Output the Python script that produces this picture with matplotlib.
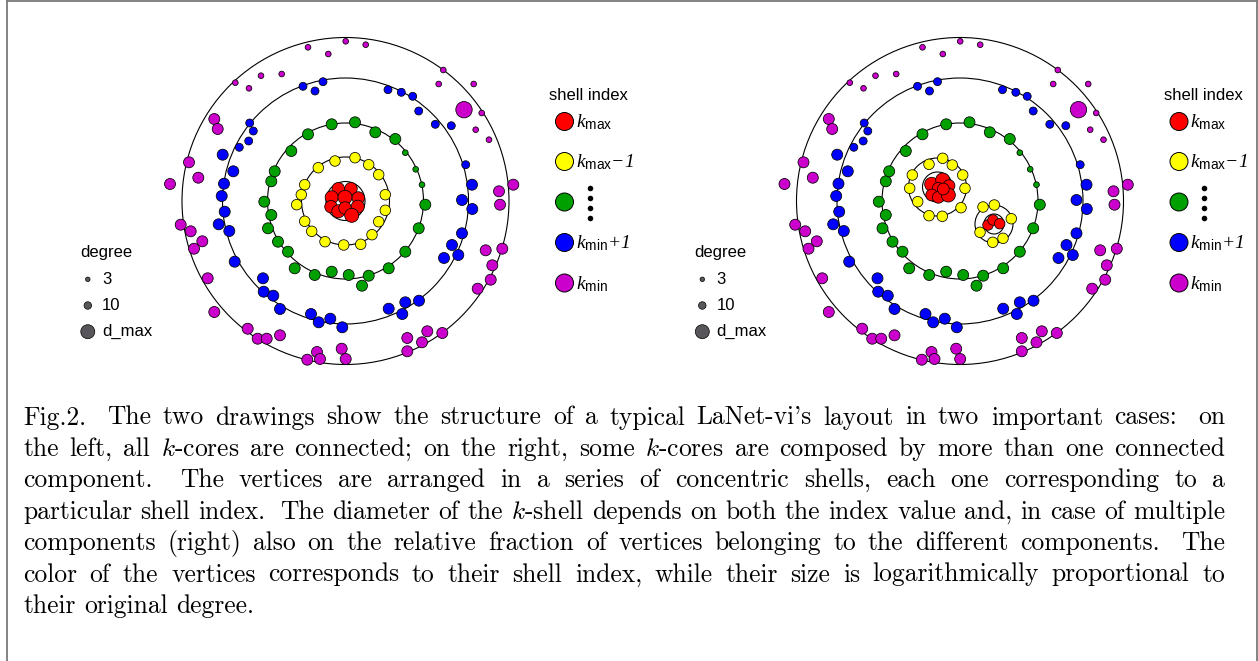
import numpy as np
import matplotlib
matplotlib.use('Agg')
import matplotlib.pyplot as plt
from matplotlib.patches import Circle

plt.rcParams['mathtext.fontset'] = 'custom'
plt.rcParams['mathtext.rm'] = 'Liberation Serif:italic'
plt.rcParams['mathtext.it'] = 'Liberation Serif:italic'
plt.rcParams['mathtext.sf'] = 'Liberation Sans'
plt.rcParams['mathtext.bf'] = 'Liberation Sans:bold'
plt.rcParams['font.family'] = ['Liberation Sans', 'DejaVu Sans']

W, H = 1258, 661

# shell colours, k_max first ... k_min last
shell_colors = ['#ff0000', '#ffff00', '#00a000', '#0000ff', '#cc00cc']

# ---- vertices: offsets from the drawing centre (px, y up) and degree ----
# k_min shell (same in both drawings)
kmin_x = [-37.5, 0.2, 20.2, -17.2, -84.5, -63.8, -110.2, -96.5, 97.8, 93.2, 128.2, 136.2, 130.2, 143.5,
          -131.2, -127.8, -156.5, -147.2, -175.5, -164.8, -154.8, -143.2, -151.5, -137.8, -131.2, -97.8,
          -87.8, -78.8, -65.5, -28.5, -38.2, -25.5, -3.8, 0.2, 61.8, 61.8, 76.5, 81.8, 96.8, 132.2, 145.2,
          146.8, 156.8, 140.2, 153.5, 154.5, 167.8, 118.5]
kmin_y = [153.7, 159.7, 156.3, 147, 125.3, 127, 118.3, 112.7, 131, 117, 117, 88, 71.3, 61.3,
          82, 72, 38.7, 23.3, 17, -23.7, -30.3, -40.3, -47.7, -77.3, -111, -127.7,
          -137.7, -137.7, -134.3, -151, -158.7, -158, -147.7, -158, -137, -150.3, -141.3, -130.3, -132, -87.7, -78.7,
          -64.3, -47.7, -49.3, 9.7, -3.7, 16.3, 91.3]
kmin_deg = [3] * 14 + [10] * 33 + [34]

# k_min+1 shell
kmin1_x = [-42.5, -22.5, -30.5, 42.5, 55.8, 67.2, 73.2, 89.8, 105.8, -95.8, -92.2, -96.8, -106.2, 120.2,
           -122.8, -112.2, -121.5, -123.8, -120.8, -126.8, -116.2, -110.8, -82.5, -81.8, -72.2, -65.5,
           -34.5, -26.8, -15.2, -3.2, 43.2, 56.8, 59.8, 73.5, 98.5, 106.5, 112.8, 116.5, 116.5, 126.8, 126.5]
kmin1_y = [114.7, 119.3, 110, 111.3, 108.7, 104.7, 90, 76.7, 75.3, 78, 70, 60, 53.7, 36.3,
           46.3, 29.7, 17.3, 5, -10.7, -23.3, -30, -60.7, -77.3, -90.7, -94.7, -108,
           -113, -121.3, -117.7, -126.3, -107.7, -113, -101.3, -99.7, -57, -44, -54, -32.3, 1, -8, 16.3]
kmin1_deg = [5] * 14 + [10] * 27

# middle shell
mid_x = [59.8, 70.2, 76.5, -13.8, 9.5, 29.8, 49.8, 79.8, 73.2, 59.8, 43.2, 23.2, 16.5, 3.2, -13.8,
         -30.8, -50.8, -57.5, -67.5, -77.5, -74.2, -81.2, -74.2, -70.8, -54.2, -37.5]
mid_y = [48.3, 31.7, 16.3, 76.7, 78.7, 68.7, 62, -3.7, -27.3, -50.7, -67.3, -74.7, -84.7, -74, -70.7,
         -74, -67.3, -50.7, -40.7, -27.3, -14, -0.7, 19.7, 29.7, 50, 66.7]
mid_deg = [3] * 3 + [10] * 23

# k_max-1 shell, left drawing
kmax1_x = [-10.5, 9.5, 23.2, 33.2, 39.8, 39.8, 33.2, 26.5, 15.2, -1.8, -20.5, -33.8, -40.8, -48.8,
           -44.2, -40.8, -27.2]
kmax1_y = [40, 43.3, 36.3, 26.3, 6.3, -9.3, -20.7, -33.7, -43.3, -44, -40.7, -30.3, -20.3, -3.7,
           6.3, 16.3, 33.3]
kmax1_deg = [9] * 17

# k_max core, left drawing
kmax_x = [-7.2, 5.5, -13.8, -0.5, 12.8, -14.5, -7.2, -0.5, 12.2, 6.2]
kmax_y = [12.3, 12.3, 3.7, 3.7, 3, -5.7, -10.3, -7, -5.7, -14.3]
kmax_deg = [14, 14, 16, 20, 14, 14, 16, 14, 16, 20]

# right drawing: k_max-1 and k_max split into two components
kmax1_r_x = [-17.3, -31, -7.7, 2.7, 5, 1, -17.7, -31, -42.3, -50.3, -47.7,
             23, 34.3, 51.3, 43, 32.7, 20]
kmax1_r_y = [42.7, 36.7, 36, 26, 12.7, -6.7, -15.3, -14.7, -0.7, 12.7, 26,
             -6, -4, -17.7, -37.3, -41.3, -31.3]
kmax1_r_deg = [9] * 17

kmax_r_x = [-28.3, -17.3, -11, -21.7, -28.3, -21.7, -11.7, -16.7, 28, 33, 39.7]
kmax_r_y = [16.7, 21, 15.3, 12.7, 6, 3.7, 6, 12, -24, -19, -22.7]
kmax_r_deg = [20, 20, 12, 12, 12, 12, 20, 12, 9, 9, 9]

# shell rings: (cx, cy, r)
rings_left = [(0, 0, 163.5), (0, 0, 123), (0, 0, 78), (0, 0, 44), (0, 0, 19.5)]
rings_right = [(0, 0, 163.5), (0, 0, 123), (0, 0, 78),
               (-22.5, 14, 29), (-22.5, 14, 15), (34, -23, 19), (34, -23, 10)]

shell_labels = [r'$k_{\mathsf{max}}$', r'$k_{\mathsf{max}}{-}1$', '',
                r'$k_{\mathsf{min}}{+}1$', r'$k_{\mathsf{min}}$']
degree_labels = ['3', '10', 'd_max']

caption = [
    "Fig.2.  The two drawings show the structure of a typical LaNet-vi's layout in two important cases: on",
    "the left, all $k$-cores are connected; on the right, some $k$-cores are composed by more than one connected",
    "component.  The vertices are arranged in a series of concentric shells, each one corresponding to a",
    "particular shell index. The diameter of the $k$-shell depends on both the index value and, in case of multiple",
    "components (right) also on the relative fraction of vertices belonging to the different components. The",
    "color of the vertices corresponds to their shell index, while their size is logarithmically proportional to",
    "their original degree.",
]


def marker_area(deg):
    # size grows with the log of the degree
    d = 5.7 + 4.4 * np.log(np.asarray(deg, dtype=float) / 3.0)
    return (d * 0.72) ** 2


fig = plt.figure(figsize=(W / 100, H / 100), dpi=100, facecolor='white')
bg = fig.add_axes([0, 0, 1, 1])
bg.set_xlim(0, W)
bg.set_ylim(H, 0)
bg.axis('off')

# frame
frame_c = '#7a7a7a'
bg.plot([6.8, 6.8], [0, H], color=frame_c, lw=1.3)
bg.plot([6.8, 1256.8], [0.9, 0.9], color=frame_c, lw=1.3)
bg.plot([1256.8, 1256.8], [0.9, H], color=frame_c, lw=1.3)


def drawing(cx, cy, rings, shells):
    R = 200
    ax = fig.add_axes([(cx - R) / W, (H - cy - R) / H, 2 * R / W, 2 * R / H])
    ax.set_xlim(-R, R)
    ax.set_ylim(-R, R)
    ax.axis('off')
    for (x0, y0, r) in rings:
        ax.add_patch(Circle((x0, y0), r, fill=False, ec='black', lw=0.8, zorder=1))
    for xs, ys, degs, col in shells:
        ax.scatter(xs, ys, s=marker_area(degs), c=col, edgecolors='black',
                   linewidths=0.55, zorder=2, clip_on=False)
    return ax


left_shells = [(kmin_x, kmin_y, kmin_deg, shell_colors[4]),
               (kmin1_x, kmin1_y, kmin1_deg, shell_colors[3]),
               (mid_x, mid_y, mid_deg, shell_colors[2]),
               (kmax1_x, kmax1_y, kmax1_deg, shell_colors[1]),
               (kmax_x, kmax_y, kmax_deg, shell_colors[0])]
right_shells = left_shells[:3] + [(kmax1_r_x, kmax1_r_y, kmax1_r_deg, shell_colors[1]),
                                  (kmax_r_x, kmax_r_y, kmax_r_deg, shell_colors[0])]

drawing(345.5, 201, rings_left, left_shells)
drawing(960, 201, rings_right, right_shells)

# legends for both panels
for off in [0, 614.5]:
    # shell index
    bg.text(549 + off, 96, 'shell index', fontsize=12, va='center', ha='left')
    ly = [121.5, 161.5, 202, 242.5, 283]
    bg.scatter([564.5 + off] * 5, ly, s=(18 * 0.72) ** 2, c=shell_colors,
               edgecolors='black', linewidths=0.7)
    for yy, lab in zip(ly, shell_labels):
        if lab:
            bg.text(575.5 + off, yy + 1, lab, fontsize=14, va='center', ha='left')
    bg.scatter([589.8 + off] * 4, [188.3, 198.3, 208.3, 217.7], s=16, c='black', lw=0)

    # degree
    bg.text(80 + off, 253, 'degree', fontsize=12, va='center', ha='left')
    dy = [279.3, 305.5, 331.7]
    bg.scatter([87.8 + off] * 3, dy, s=[(4.5 * 0.72) ** 2, (7.5 * 0.72) ** 2, (14 * 0.72) ** 2],
               c='#58565a', edgecolors='black', linewidths=0.5)
    for yy, lab in zip(dy, degree_labels):
        bg.text(102 + off, yy, lab, fontsize=12, va='center', ha='left')

# justified caption
fig.canvas.draw()
renderer = fig.canvas.get_renderer()
x_left, x_right = 23, 1225
base_y, gap_y = 424.5, 31.4
cap_kw = dict(fontsize=18.4, family=['cmr10', 'DejaVu Serif'], math_fontfamily='cm',
              va='baseline', ha='left')
for i, line in enumerate(caption):
    y = base_y + i * gap_y
    words = line.split()
    texts = [bg.text(0, y, w, **cap_kw) for w in words]
    widths = [t.get_window_extent(renderer).width for t in texts]
    if i == len(caption) - 1:
        x = x_left
        for t, w in zip(texts, widths):
            t.set_x(x)
            x += w + 8.5
        continue
    weights = [1.8 if words[j].endswith(('.', ':')) else 1.0 for j in range(len(words) - 1)]
    free = (x_right - x_left) - sum(widths)
    x = x_left
    for j, (t, w) in enumerate(zip(texts, widths)):
        t.set_x(x)
        if j < len(weights):
            x += w + free * weights[j] / sum(weights)

fig.savefig('out.png', dpi=100, facecolor='white')
